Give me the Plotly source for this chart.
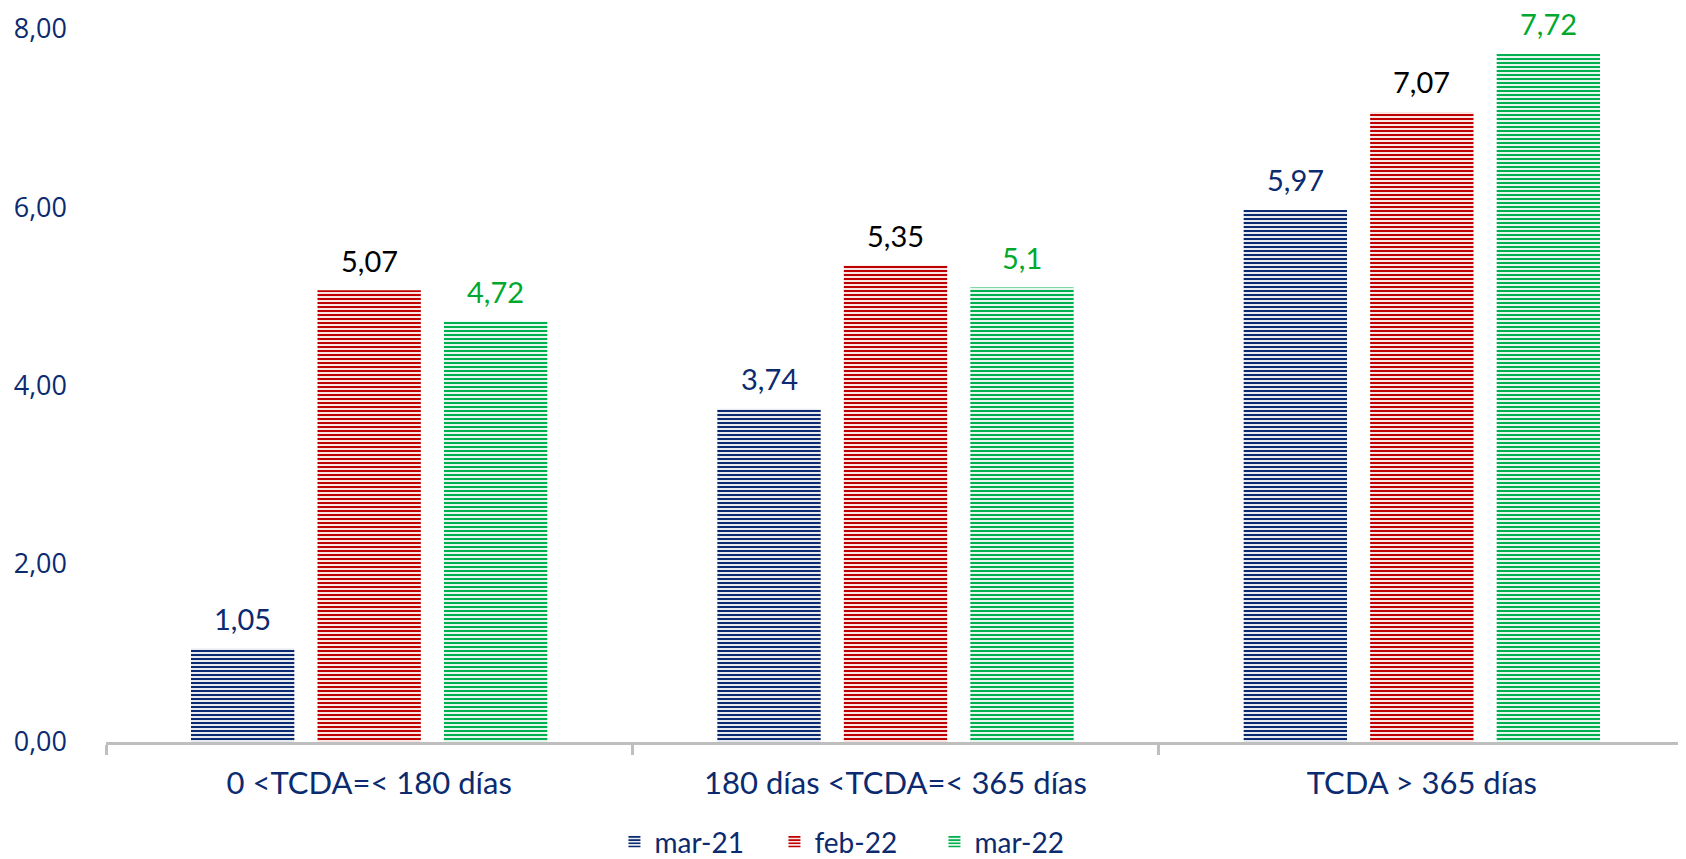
import plotly.graph_objects as go

categories = ["0 <TCDA=< 180 días", "180 días <TCDA=< 365 días", "TCDA > 365 días"]
series_names = ["mar-21", "feb-22", "mar-22"]
mar21 = [1.05, 3.74, 5.97]
feb22 = [5.07, 5.35, 7.07]
mar22 = [4.72, 5.10, 7.72]
y_ticks = [0, 2, 4, 6, 8]

bar_colors = ["#0B2A6F", "#C00000", "#00B050"]
label_colors = ["#0B2A6F", "#000000", "#00A92E"]
NAVY = "#0B2A6F"
FONT = "Lato"

W, H = 1686, 859
ML, MR, MT, MB = 98, 9, 21, 125
BARGAP, GROUPGAP = 0.279, 0.183


def fmt(v):
    s = ("%.2f" % v).rstrip("0").rstrip(".")
    return s.replace(".", ",")


fig = go.Figure()
series = [mar21, feb22, mar22]
for name, vals, c in zip(series_names, series, bar_colors):
    fig.add_trace(go.Bar(
        name=name,
        x=categories,
        y=vals,
        cliponaxis=False,
        marker=dict(
            color="white",
            line=dict(width=0),
            pattern=dict(shape="-", fgcolor=c, fgopacity=1, bgcolor="white",
                         size=4, solidity=0.55, fillmode="overlay"),
        ),
    ))

# value labels placed above each bar (offset within the group derived from layout gaps)
plot_w = W - ML - MR
slot_px = plot_w / len(categories) * (1 - BARGAP) / len(series)
for i, (vals, lc) in enumerate(zip(series, label_colors)):
    for cat, v in zip(categories, vals):
        fig.add_annotation(
            x=cat, y=v, xref="x", yref="y",
            text=fmt(v), showarrow=False,
            xshift=(i - (len(series) - 1) / 2) * slot_px,
            yshift=30, yanchor="middle", borderpad=0,
            font=dict(family=FONT, size=29, color=lc),
        )

fig.update_layout(
    width=W,
    height=H,
    paper_bgcolor="white",
    plot_bgcolor="white",
    barmode="group",
    bargap=BARGAP,
    bargroupgap=GROUPGAP,
    margin=dict(l=ML, r=MR, t=MT, b=MB, autoexpand=False),
    separators=",.",
    font=dict(family=FONT, size=28, color=NAVY),
    legend=dict(
        orientation="h",
        x=0.474,
        xanchor="center",
        yref="container",
        y=0.0,
        yanchor="bottom",
        font=dict(family=FONT, size=28, color=NAVY),
        traceorder="normal",
        entrywidth=115,
        entrywidthmode="pixels",
    ),
    xaxis=dict(
        showline=True,
        linecolor="#BFBFBF",
        linewidth=3,
        ticks="outside",
        tickson="boundaries",
        ticklen=10,
        tickwidth=3,
        tickcolor="#BFBFBF",
        tickfont=dict(family=FONT, size=31, color=NAVY),
        showgrid=False,
        ticklabelstandoff=12,
    ),
    yaxis=dict(
        range=[0, 8],
        tickvals=y_ticks,
        tickformat=".2f",
        showgrid=False,
        zeroline=False,
        showline=False,
        tickfont=dict(family="Open Sans", size=27, color=NAVY),
        ticklabelstandoff=38,
    ),
)

fig.write_html("out.html")
